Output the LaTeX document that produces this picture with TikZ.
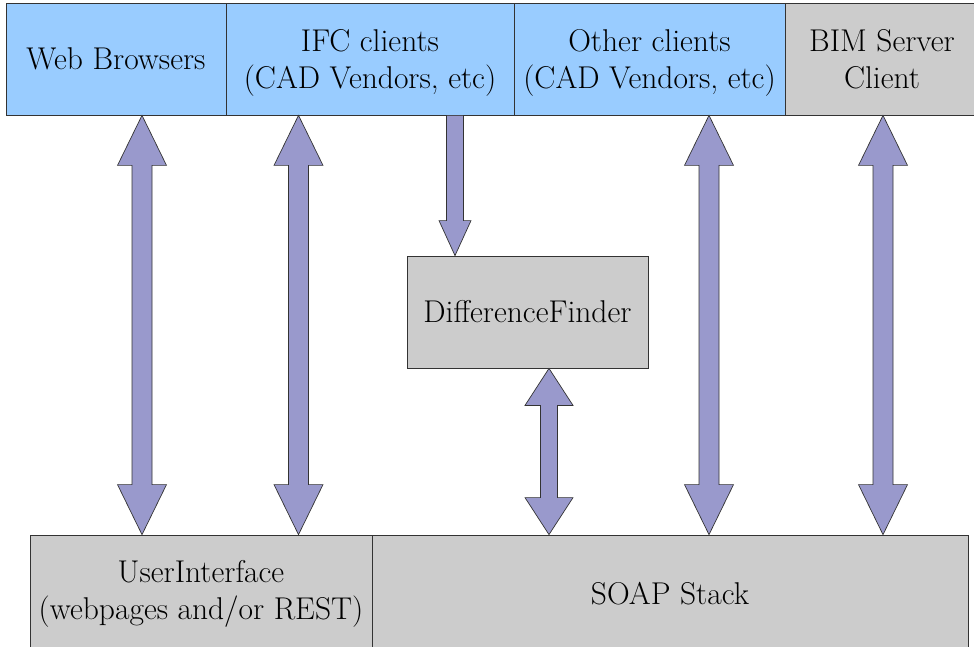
\documentclass[tikz,border=0pt]{standalone}
\usepackage{fontspec}
\usetikzlibrary{calc}
\definecolor{topblue}{HTML}{99CCFF}
\definecolor{boxgray}{HTML}{CCCCCC}
\definecolor{arrowfill}{HTML}{9999CC}
\definecolor{edgecol}{HTML}{333333}
\tikzset{
  blockbox/.style={draw=edgecol, line width=0.8pt, inner sep=0pt, align=center,
    font=\rmfamily\fontsize{31.5}{37}\selectfont, minimum height=112pt},
  bluebox/.style={blockbox, fill=topblue},
  graybox/.style={blockbox, fill=boxgray},
  boxtext/.style={inner sep=0pt, align=center, font=\rmfamily\fontsize{31.5}{37}\selectfont},
  fatarrow/.style={fill=arrowfill, draw=edgecol, line width=0.7pt, line join=miter}
}
% double block arrow: #1 top point, #2 bottom point, #3 shaft half width, #4 head half width, #5 head length
\newcommand\fatdouble[5]{%
  \filldraw[fatarrow] let \p1=#1, \p2=#2 in
    (\x1,\y1) -- (\x1+#4,\y1-#5) -- (\x1+#3,\y1-#5) -- (\x1+#3,\y2+#5) -- (\x1+#4,\y2+#5)
    -- (\x1,\y2) -- (\x1-#4,\y2+#5) -- (\x1-#3,\y2+#5) -- (\x1-#3,\y1-#5) -- (\x1-#4,\y1-#5) -- cycle;}
% single downward block arrow
\newcommand\fatdown[5]{%
  \filldraw[fatarrow] let \p1=#1, \p2=#2 in
    (\x1-#3,\y1) -- (\x1+#3,\y1) -- (\x1+#3,\y2+#5) -- (\x1+#4,\y2+#5)
    -- (\x1,\y2) -- (\x1-#4,\y2+#5) -- (\x1-#3,\y2+#5) -- cycle;}
\begin{document}
\begin{tikzpicture}[x=1pt,y=-1pt]
\useasboundingbox (0,0) rectangle (974,647);
\clip (0,0) rectangle (974,647);
\fill[white] (0,0) rectangle (974,647);
% top row
\node[bluebox, minimum width=220pt] (wb) at (116,59) {Web Browsers};
\node[bluebox, minimum width=288pt] (ifc) at (370,59) {};
\node[boxtext] (ifct) at ($(ifc.center)+(0,4)$) {IFC clients\\(CAD Vendors, etc)};
\node[bluebox, minimum width=271pt] (oth) at (649.5,59) {};
\node[boxtext] (otht) at ($(oth.center)+(0,4)$) {Other clients\\(CAD Vendors, etc)};
\node[graybox, minimum width=194pt] (bim) at (882,59) {BIM Server\\Client};
% middle
\node[graybox, minimum width=241pt] (df) at (527.5,312) {DifferenceFinder};
% bottom row
\node[graybox, minimum width=342pt, minimum height=117pt] (ui) at (201,593.5) {UserInterface\\(webpages and/or REST)};
\node[graybox, minimum width=596pt, minimum height=117pt] (soap) at (670,593.5) {SOAP Stack};
% arrows
\fatdouble{(142,0 |- wb.south)}{(142,0 |- ui.north)}{10pt}{24.5pt}{50pt}
\fatdouble{(298.5,0 |- ifc.south)}{(298.5,0 |- ui.north)}{10pt}{24.5pt}{50pt}
\fatdown{(455,0 |- ifc.south)}{(455,0 |- df.north)}{8.5pt}{16pt}{35pt}
\fatdouble{(549,0 |- df.south)}{(549,0 |- soap.north)}{8.5pt}{24pt}{37pt}
\fatdouble{(709,0 |- oth.south)}{(709,0 |- soap.north)}{10pt}{24.5pt}{50pt}
\fatdouble{(883,0 |- bim.south)}{(883,0 |- soap.north)}{10pt}{24.5pt}{50pt}
\end{tikzpicture}
\end{document}
